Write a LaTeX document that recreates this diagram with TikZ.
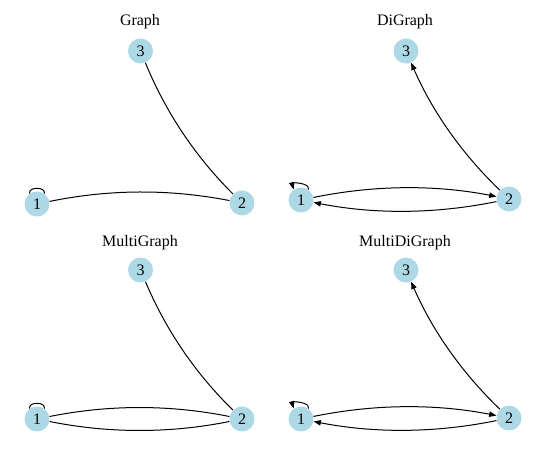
\documentclass[tikz,border=0pt]{standalone}
\usepackage{fontspec}
\setmainfont{Liberation Serif}
\usetikzlibrary{arrows.meta}
\definecolor{nodeblue}{RGB}{173,216,230}
\tikzset{
  vtx/.style={circle,fill=nodeblue,draw=none,minimum size=18.75pt,inner sep=0pt,font=\fontsize{12pt}{14pt}\selectfont},
  ttl/.style={font=\fontsize{12pt}{14pt}\selectfont},
  edge/.style={line width=0.75pt,black},
  darr/.style={edge,-{Triangle[length=5.5pt,width=4pt]}},
  arc/.style={bend left=11.3,looseness=0.87}
}
\begin{document}
\begin{tikzpicture}[x=0.75pt,y=-0.75pt]
\useasboundingbox (0,0) rectangle (546,454);
% Graph
\node[ttl] (t1) at (140,22) {Graph};
\node[vtx] (a1) at (37,204) {1};
\node[vtx] (a2) at (242,203) {2};
\node[vtx] (a3) at (140.5,51) {3};
\draw[edge] (a1) to[arc] (a2);
\draw[edge] (a2) to[arc] (a3);
\draw[edge] (a1.125) .. controls +(-2,-7) and +(2,-7) .. (a1.55);
% DiGraph
\node[ttl] (t2) at (405,22) {DiGraph};
\node[vtx] (b1) at (301,200) {1};
\node[vtx] (b2) at (509,199) {2};
\node[vtx] (b3) at (406,51) {3};
\draw[darr] (b1) to[arc] (b2);
\draw[darr] (b2) to[arc] (b1);
\draw[darr] (b2) to[arc] (b3);
\draw[darr] (b1.55) .. controls +(2,-7) and +(-2,-7) .. (b1.125);
% MultiGraph
\node[ttl] (t3) at (140,243) {MultiGraph};
\node[vtx] (c1) at (37,419) {1};
\node[vtx] (c2) at (242,419) {2};
\node[vtx] (c3) at (140.5,270) {3};
\draw[edge] (c1) to[arc] (c2);
\draw[edge] (c2) to[arc] (c1);
\draw[edge] (c2) to[arc] (c3);
\draw[edge] (c1.125) .. controls +(-2,-7) and +(2,-7) .. (c1.55);
% MultiDiGraph
\node[ttl] (t4) at (405,243) {MultiDiGraph};
\node[vtx] (d1) at (301,419) {1};
\node[vtx] (d2) at (509,418) {2};
\node[vtx] (d3) at (406,270) {3};
\draw[darr] (d1) to[arc] (d2);
\draw[darr] (d2) to[arc] (d1);
\draw[darr] (d2) to[arc] (d3);
\draw[darr] (d1.55) .. controls +(2,-7) and +(-2,-7) .. (d1.125);
\end{tikzpicture}
\end{document}
